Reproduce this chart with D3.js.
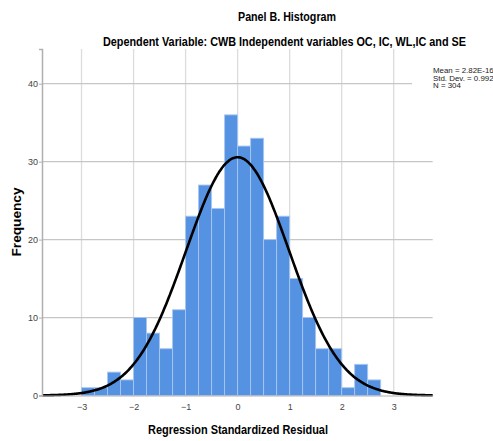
<!DOCTYPE html>
<html>
<head>
<meta charset="utf-8">
<script src="https://cdn.jsdelivr.net/npm/d3@7"></script>
<style>
  body { margin: 0; background: #fff; }
  svg { display: block; }
  .narrow { font-family: "Liberation Sans Narrow", "Arial Narrow", "Liberation Sans", Arial, sans-serif; }
</style>
</head>
<body>
<svg id="chart"></svg>
<script>
// histogram bins (lower edges) and counts
const binStarts = [-3, -2.75, -2.5, -2.25, -2, -1.75, -1.5, -1.25, -1, -0.75, -0.5, -0.25,
                   0, 0.25, 0.5, 0.75, 1, 1.25, 1.5, 1.75, 2, 2.25, 2.5];
const binCounts = [1, 1, 3, 2, 10, 8, 6, 11, 23, 27, 24, 36,
                   32, 33, 20, 23, 15, 10, 6, 6, 1, 4, 2];
const binWidth = 0.25;
const xTicks = [-3, -2, -1, 0, 1, 2, 3];
const yTicks = [0, 10, 20, 30, 40];
const statLabels = ["Mean = 2.82E-16", "Std. Dev. = 0.992", "N = 304"];
const meanVal = 2.82e-16, sdVal = 0.992, nVal = 304;

const width = 493, height = 441;
const svg = d3.select("#chart").attr("width", width).attr("height", height);

const x = d3.scaleLinear().domain([-3.76, 3.75]).range([42, 432.7]);
const y = d3.scaleLinear().domain([0, 44.45]).range([395.5, 49]);

// grid
svg.append("g")
    .selectAll("line")
    .data(xTicks)
    .join("line")
        .attr("x1", d => x(d)).attr("x2", d => x(d))
        .attr("y1", y.range()[1]).attr("y2", y(0))
        .attr("stroke", "#dcdcdc")
        .attr("stroke-width", 1.3);

svg.append("g")
    .selectAll("line")
    .data(yTicks.filter(d => d > 0))
    .join("line")
        .attr("x1", x.range()[0])
        .attr("x2", d => d === 40 ? 412 : x.range()[1])
        .attr("y1", d => y(d)).attr("y2", d => y(d))
        .attr("stroke", "#c6c6c6")
        .attr("stroke-width", 1.2);

// bars
svg.append("g")
    .selectAll("rect")
    .data(binStarts.map((s, i) => ({ start: s, count: binCounts[i] })))
    .join("rect")
        .attr("x", d => x(d.start))
        .attr("width", d => x(d.start + binWidth) - x(d.start))
        .attr("y", d => y(d.count))
        .attr("height", d => y(0) - y(d.count))
        .attr("fill", "#5592e1")
        .attr("stroke", "#a9c6f0")
        .attr("stroke-width", 0.9);

// normal curve
const pdf = v => Math.exp(-0.5 * ((v - meanVal) / sdVal) ** 2) / (sdVal * Math.sqrt(2 * Math.PI));
const curvePts = d3.range(0, 401).map(i => {
    const v = x.domain()[0] + (x.domain()[1] - x.domain()[0]) * i / 400;
    return [v, nVal * binWidth * pdf(v)];
});
svg.append("path")
    .datum(curvePts)
    .attr("fill", "none")
    .attr("stroke", "#000")
    .attr("stroke-width", 2.6)
    .attr("d", d3.line().x(d => x(d[0])).y(d => y(d[1])).curve(d3.curveBasis));

// axes
const yAxis = svg.append("g")
    .attr("transform", `translate(${x.range()[0]},0)`)
    .call(d3.axisLeft(y).tickValues(yTicks).tickSize(3).tickPadding(1));
yAxis.select(".domain").attr("stroke", "#b0b0b0").attr("stroke-width", 1.5);
yAxis.selectAll(".tick line").attr("stroke", "#b0b0b0");

const xAxis = svg.append("g")
    .attr("transform", `translate(0,${y(0)})`)
    .call(d3.axisBottom(x).tickValues(xTicks).tickSize(0).tickPadding(8));
xAxis.select(".domain").attr("stroke", "#b0b0b0").attr("stroke-width", 1.2);

svg.selectAll(".tick text")
    .attr("class", "narrow")
    .attr("font-size", 9)
    .attr("fill", "#444");

// statistics box (runs past the right edge, as in the source)
svg.append("g")
    .selectAll("text")
    .data(statLabels)
    .join("text")
        .attr("class", "narrow")
        .attr("x", 433)
        .attr("y", (d, i) => 73 + i * 7.6)
        .attr("font-size", 7.9)
        .attr("fill", "#222")
        .text(d => d);

// titles
svg.append("text")
    .attr("class", "narrow")
    .attr("x", 287).attr("y", 21)
    .attr("text-anchor", "middle")
    .attr("font-size", 12.5).attr("font-weight", "bold")
    .attr("textLength", 98).attr("lengthAdjust", "spacingAndGlyphs")
    .text("Panel B. Histogram");

svg.append("text")
    .attr("class", "narrow")
    .attr("x", 284.5).attr("y", 46)
    .attr("text-anchor", "middle")
    .attr("font-size", 12.5).attr("font-weight", "bold")
    .attr("textLength", 363).attr("lengthAdjust", "spacingAndGlyphs")
    .text("Dependent Variable: CWB Independent variables OC, IC, WL,IC and SE");

svg.append("text")
    .attr("class", "narrow")
    .attr("x", 238).attr("y", 433.5)
    .attr("text-anchor", "middle")
    .attr("font-size", 12.5).attr("font-weight", "bold")
    .attr("textLength", 180).attr("lengthAdjust", "spacingAndGlyphs")
    .text("Regression Standardized Residual");

svg.append("text")
    .attr("transform", "translate(20.5,222) rotate(-90)")
    .attr("text-anchor", "middle")
    .attr("font-family", "Liberation Sans, Arial, sans-serif")
    .attr("font-size", 12.5).attr("font-weight", "bold")
    .attr("textLength", 69).attr("lengthAdjust", "spacingAndGlyphs")
    .text("Frequency");
</script>
</body>
</html>
